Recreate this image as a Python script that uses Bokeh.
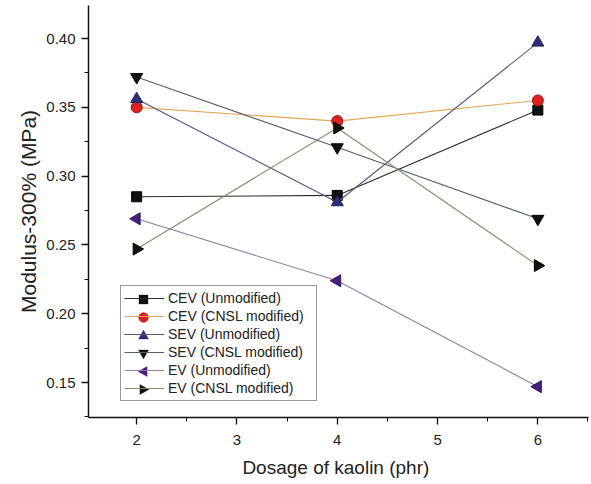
import numpy as np
from bokeh.plotting import figure
from bokeh.models import (Range1d, SingleIntervalTicker, NumeralTickFormatter,
                          Legend, LegendItem, ColumnDataSource, PolyAnnotation)
from bokeh.embed import file_html
from bokeh.resources import INLINE

dosage = [2, 4, 6]
cev_unmod = [0.285, 0.286, 0.348]
cev_cnsl = [0.350, 0.340, 0.355]
sev_unmod = [0.356, 0.281, 0.397]
sev_cnsl = [0.372, 0.321, 0.269]
ev_unmod = [0.269, 0.224, 0.147]
ev_cnsl = [0.247, 0.335, 0.235]

labels = ["CEV (Unmodified)", "CEV (CNSL modified)", "SEV (Unmodified)",
          "SEV (CNSL modified)", "EV (Unmodified)", "EV (CNSL modified)"]
series = [cev_unmod, cev_cnsl, sev_unmod, sev_cnsl, ev_unmod, ev_cnsl]

FONT = "Liberation Sans"

p = figure(width=591, height=484, output_backend="svg", toolbar_location=None,
           x_range=Range1d(1.52, 6.505), y_range=Range1d(0.1246, 0.424),
           min_border_left=88, min_border_bottom=67, min_border_top=5,
           min_border_right=3)
p.outline_line_color = None
p.xgrid.visible = False
p.ygrid.visible = False
p.background_fill_color = "white"
p.border_fill_color = "white"

p.xaxis.ticker = SingleIntervalTicker(interval=1, num_minor_ticks=2)
p.yaxis.ticker = SingleIntervalTicker(interval=0.05, num_minor_ticks=2)
p.yaxis.formatter = NumeralTickFormatter(format="0.00")
p.xaxis.formatter = NumeralTickFormatter(format="0")
for ax in (p.xaxis, p.yaxis):
    ax.axis_line_width = 1.5
    ax.axis_line_color = "#111111"
    ax.major_tick_line_color = "#111111"
    ax.minor_tick_line_color = "#111111"
    ax.major_tick_line_width = 1.3
    ax.minor_tick_line_width = 1.0
    ax.major_tick_out = 7
    ax.major_tick_in = 0
    ax.minor_tick_out = 4
    ax.minor_tick_in = 0
    ax.major_label_text_font = FONT
    ax.major_label_text_font_size = "15px"
    ax.major_label_text_color = "#222222"
    ax.axis_label_text_font = FONT
    ax.axis_label_text_font_style = "normal"
    ax.axis_label_text_color = "#222222"
p.xaxis.axis_label = "Dosage of  kaolin (phr)"
p.yaxis.axis_label = "Modulus-300% (MPa)"
p.xaxis.axis_label_text_font_size = "19px"
p.yaxis.axis_label_text_font_size = "21px"
p.xaxis.major_label_standoff = 10
p.yaxis.major_label_standoff = 6
p.xaxis.axis_label_standoff = 9
p.yaxis.axis_label_standoff = 3

line_colors = ["#2a2a2a", "#e3a555", "#55557f", "#565e6c", "#8c80a8", "#8c8c70"]
markers = ["square", "circle", "triangle", "inverted_triangle", "triangle", "triangle"]
angles = [0, 0, 0, 0, np.pi / 2, -np.pi / 2]
fills = ["#111111", "#dd2020", "#2e2e7a", "#111111", "#45207a", "#111111"]
outlines = ["#000000", "#a01010", "#20205a", "#000000", "#30105a", "#000000"]
sizes = [10, 11, 12, 12, 12, 12]
# legend sample shapes (screen-space outlines, relative to sample centre)
t = np.linspace(0, 2 * np.pi, 24, endpoint=False)
shapes = [
    ([-4.5, 4.5, 4.5, -4.5], [-4.5, -4.5, 4.5, 4.5]),
    (list(4.9 * np.cos(t)), list(4.9 * np.sin(t))),
    ([0, 5, -5], [5.4, -3.6, -3.6]),
    ([0, 5, -5], [-5.4, 3.6, 3.6]),
    ([-5.4, 3.6, 3.6], [0, 5, -5]),
    ([5.4, -3.6, -3.6], [0, 5, -5]),
]

items = []
for lab, ys, lc, mk, an, fc, oc, sz in zip(labels, series, line_colors, markers,
                                            angles, fills, outlines, sizes):
    src = ColumnDataSource(dict(x=dosage, y=ys))
    ln = p.line("x", "y", source=src, line_color=lc, line_width=1.1)
    p.scatter("x", "y", source=src, marker=mk, angle=an, size=sz,
              fill_color=fc, line_color=oc, line_width=1)
    items.append(LegendItem(label=lab, renderers=[ln]))

PAD, GW, GH, SP = 3, 40, 18, 0
LEG_X, LEG_Y = 32, 16
legend = Legend(items=items, location=(LEG_X, LEG_Y), orientation="vertical")
legend.label_text_font = FONT
legend.label_text_font_size = "14px"
legend.label_text_color = "#222222"
legend.glyph_width = GW
legend.glyph_height = GH
legend.label_height = GH
legend.label_width = 145
legend.label_standoff = 4
legend.spacing = SP
legend.padding = PAD
legend.margin = 0
legend.border_line_color = "#333333"
legend.border_line_width = 1
legend.background_fill_alpha = 0
p.add_layout(legend, "center")

# legend sample markers (Bokeh legend markers ignore the angle of sideways triangles)
n = len(items)
leg_h = n * GH + (n - 1) * SP + 2 * PAD
cx = LEG_X + PAD + GW / 2
for i, (sx, sy) in enumerate(shapes):
    cy = LEG_Y + leg_h - PAD - GH / 2 - i * (GH + SP)
    p.add_layout(PolyAnnotation(xs=[cx + v for v in sx], ys=[cy + v for v in sy],
                                xs_units="screen", ys_units="screen",
                                fill_color=fills[i], fill_alpha=1,
                                line_color=outlines[i], line_width=1,
                                level="overlay"))

open("out.html", "w").write(file_html(p, INLINE))
